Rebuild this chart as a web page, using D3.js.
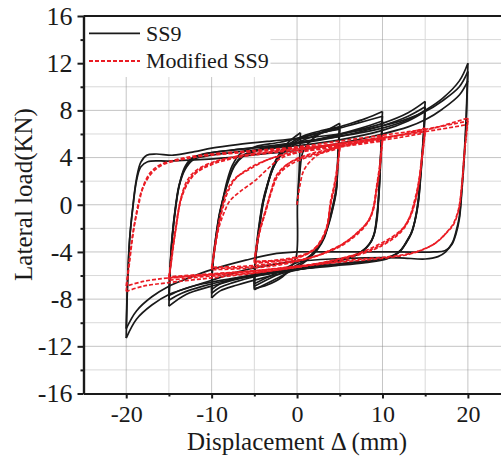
<!DOCTYPE html>
<html>
<head>
<meta charset="utf-8">
<script src="https://cdn.jsdelivr.net/npm/d3@7"></script>
<style>
  body { margin: 0; background: #fff; }
  text { font-family: "Liberation Serif", "Times New Roman", serif; fill: #1a1a1a; }
</style>
</head>
<body>
<div class="chart"></div>
<script>
var svgWidth = 501;
var svgHeight = 457;

var margin = { top: 16, left: 83.5, bottom: 63.5 };
var plotRight = 510.6; // right edge sits just outside the window

// tick values
var xTicks = [-20, -10, 0, 10, 20];
var xMinor = [-15, -5, 5, 15];
var yTicks = [-16, -12, -8, -4, 0, 4, 8, 12, 16];
var yMinor = [-14, -10, -6, -2, 2, 6, 10, 14];

// SS9 branches: [displacement mm, load kN]
var ss9Amp5 = [
  [[0,0],[0.3,2.5],[0.65,4.4],[1.3,5.2],[2.6,6.0],[4,6.5],[5,6.9]],
  [[5,6.9],[4.8,4.5],[4.6,1.5],[4.2,0],[3.7,-1.5],[3.2,-2.8],[2.4,-3.8],[1.5,-4.5],[0,-5.3],[-2.5,-6.3],[-5,-7.2]],
  [[-5,-7.2],[-4.9,-5],[-4.5,-2.5],[-4,0],[-3.6,1.3],[-3,2.9],[-2.1,4.3],[-1,5.3],[0.4,6.1]],
  [[0.4,6.1],[0.25,3],[0.05,0],[-0.1,-4.4],[-0.8,-5.4],[-1.7,-6.1],[-3.5,-6.8],[-5,-7.1]],
  [[-5,-7.1],[-4.9,-4.9],[-4.5,-2.4],[-4,0.1],[-3.5,1.5],[-2.9,3.0],[-2,4.3],[-0.8,5.2],[1,5.9],[3,6.3],[5,6.6]],
  [[5,6.6],[4.8,4.2],[4.6,1.3],[4.2,-0.2],[3.6,-1.8],[3.0,-3.0],[2.2,-3.9],[1.2,-4.6],[0,-5.1],[-2.5,-6.0],[-5,-6.9]],
  [[-5,-6.9],[-4.9,-4.7],[-4.5,-2.2],[-4,0.2],[-3.5,1.6],[-2.8,3.1],[-1.9,4.3],[-0.5,5.2],[1.5,5.9],[3.5,6.2],[5,6.4]],
  [[5,6.4],[4.8,4],[4.6,1.2],[4.2,-0.3],[3.6,-1.9],[2.9,-3.1],[2,-4.0],[1,-4.6],[0,-4.9],[-2.5,-5.8],[-5,-6.7]]
];
var ss9Amp10 = [
  [[-5,-6.7],[-4.9,-4.5],[-4.5,-2],[-4,0.3],[-3.4,1.9],[-2.6,3.4],[-1.5,4.5],[0.5,5.4],[3,6.1],[5,6.6],[8,7.3],[10,7.9]],
  [[10,7.9],[9.8,4.5],[9.6,1.5],[9.4,-1],[9.1,-2.3],[8.7,-3.1],[8,-3.7],[7,-4.2],[5,-4.7],[2,-5.2],[-1,-5.7],[-4,-6.2],[-7,-6.8],[-9,-7.3],[-10,-7.9]],
  [[-10,-7.9],[-9.9,-5.5],[-9.6,-3.5],[-9.1,-1],[-8.7,0.4],[-8.2,2],[-7.6,3.3],[-6.7,4.3],[-5,4.9],[-2,5.3],[1,5.8],[4,6.3],[7,6.9],[10,7.5]],
  [[10,7.5],[9.8,4.2],[9.6,1.2],[9.3,-1.2],[9.0,-2.5],[8.5,-3.3],[7.7,-3.9],[6.5,-4.4],[4,-4.8],[1,-5.3],[-2,-5.7],[-5,-6.1],[-7.5,-6.6],[-9,-7.0],[-10,-7.5]],
  [[-10,-7.5],[-9.9,-5.3],[-9.6,-3.3],[-9.1,-0.9],[-8.6,0.6],[-8.0,2.1],[-7.3,3.3],[-6.3,4.1],[-4.5,4.6],[-1.5,5.0],[1.5,5.4],[4.5,5.9],[7.5,6.5],[10,7.1]],
  [[10,7.1],[9.8,4.0],[9.6,1.0],[9.3,-1.3],[9.0,-2.6],[8.4,-3.4],[7.6,-4.0],[6.2,-4.5],[4,-4.9],[1,-5.3],[-2,-5.6],[-5,-5.9],[-7.5,-6.3],[-9,-6.7],[-10,-7.2]]
];
var ss9Amp15 = [
  [[-10,-7.2],[-9.9,-5.1],[-9.6,-3.2],[-9.1,-0.8],[-8.6,0.7],[-8.0,2.2],[-7.3,3.4],[-6.3,4.2],[-4.5,4.7],[-1,5.1],[3,5.6],[7,6.3],[10,6.9],[13,7.8],[15,8.76]],
  [[15,8.76],[14.8,6],[14.5,3],[14.2,0.5],[13.9,-1],[13.5,-2.2],[12.9,-3.0],[12.2,-3.8],[11,-4.4],[9,-4.7],[5,-5.0],[1,-5.4],[-3,-5.8],[-7,-6.3],[-10,-6.9],[-13,-7.6],[-15,-8.6]],
  [[-15,-8.6],[-14.85,-5.5],[-14.6,-2.8],[-14.2,-0.2],[-13.8,1.6],[-13.2,3.1],[-12.4,3.9],[-11,4.3],[-8,4.6],[-4,4.9],[0,5.2],[5,5.8],[10,6.7],[13,7.5],[15,8.3]],
  [[15,8.3],[14.8,5.7],[14.5,2.8],[14.2,0.3],[13.8,-1.3],[13.4,-2.4],[12.8,-3.2],[12,-4.0],[10.5,-4.5],[8,-4.8],[4,-5.1],[0,-5.5],[-4,-5.9],[-8,-6.4],[-11,-6.9],[-13.5,-7.5],[-15,-8.1]],
  [[-15,-8.1],[-14.85,-5.3],[-14.6,-2.6],[-14.2,-0.1],[-13.8,1.6],[-13.1,3.0],[-12.2,3.8],[-10.8,4.1],[-8,4.4],[-4,4.7],[0,5.0],[5,5.5],[10,6.3],[13,7.1],[15,7.9]],
  [[15,7.9],[14.8,5.5],[14.5,2.6],[14.2,0.2],[13.8,-1.4],[13.3,-2.5],[12.7,-3.3],[11.8,-4.1],[10.5,-4.6],[8,-4.9],[4,-5.2],[0,-5.5],[-4,-5.9],[-8,-6.3],[-11,-6.7],[-13.5,-7.2],[-15,-7.7]]
];
var ss9Amp20 = [
  [[-15,-7.7],[-14.85,-5.1],[-14.6,-2.5],[-14.2,0],[-13.8,1.7],[-13.1,3.1],[-12.2,3.9],[-10.8,4.3],[-8,4.6],[-4,4.9],[0,5.3],[5,5.8],[10,6.5],[13,7.2],[15,8.0],[17,9.0],[19,10.5],[20,12.0]],
  [[20,12.0],[19.8,7.5],[19.6,4.6],[19.3,1.5],[19.0,-1.0],[18.6,-2.3],[18.2,-3.2],[17.4,-4.0],[16.5,-4.4],[15,-4.6],[12,-4.5],[8,-4.5],[4,-4.6],[0,-4.8],[-4,-5.2],[-7,-5.7],[-10,-6.4],[-13,-7.1],[-15,-7.6],[-17,-8.5],[-18.8,-9.7],[-20,-11.3]],
  [[-20,-11.3],[-19.85,-7],[-19.6,-3],[-19.2,0],[-18.8,2.2],[-18.3,3.6],[-17.6,4.2],[-16.5,4.3],[-14.5,4.2],[-12,4.5],[-10,4.8],[-7,5.1],[-3,5.4],[0,5.6],[5,6.0],[10,6.7],[13,7.3],[15,7.9],[17,8.8],[19,10.0],[20,11.3]],
  [[20,11.3],[19.8,7.0],[19.6,4.2],[19.3,1.2],[19.0,-1.2],[18.6,-2.5],[18.1,-3.4],[17.3,-3.9],[16,-4.0],[12,-4.0],[8,-4.0],[4,-4.0],[0,-4.0],[-3,-4.2],[-6,-4.7],[-10,-5.5],[-13,-6.3],[-15,-6.9],[-17,-7.8],[-18.8,-9.0],[-20,-10.5]],
  [[-20,-10.5],[-19.85,-6.6],[-19.6,-2.9],[-19.2,-0.1],[-18.8,2.0],[-18.3,3.2],[-17.5,3.65],[-15,3.7],[-12,3.8],[-8,4.0],[-4,4.3],[0,4.6],[5,5.2],[10,6.0],[13,6.6],[15,7.2],[17,8.1],[19,9.3],[20,10.5]]
];

// Modified SS9 branches
var modAmp5 = [
  [[0,0],[0.3,1.5],[0.85,3.0],[2.2,4.1],[3.6,4.6],[5,5.0]],
  [[5,5.0],[4.7,3.2],[4.3,1.5],[3.9,0.2],[3.6,-1.6],[3.0,-2.8],[2,-3.8],[0,-4.5],[-2.5,-4.8],[-5,-4.95]],
  [[-5,-4.95],[-4.7,-3.5],[-4.4,-2.3],[-3.7,-0.5],[-3.1,1.0],[-2.4,2.5],[-1,3.5],[1.5,4.2],[3.5,4.6],[5,4.9]],
  [[5,4.9],[4.7,3.0],[4.3,1.3],[3.9,0],[3.5,-1.8],[2.8,-3.0],[1.8,-3.9],[0,-4.5],[-2.5,-4.75],[-5,-4.85]],
  [[-5,-4.85],[-4.7,-3.4],[-4.3,-2.1],[-3.6,-0.4],[-3.0,1.1],[-2.2,2.5],[-0.8,3.4],[1.5,4.1],[3.5,4.5],[5,4.8]],
  [[5,4.8],[4.7,2.9],[4.3,1.2],[3.9,-0.1],[3.5,-1.9],[2.8,-3.1],[1.7,-3.9],[0,-4.4],[-2.5,-4.7],[-5,-4.8]]
];
var modAmp10 = [
  [[-5,-4.8],[-4.7,-3.3],[-4.3,-2.0],[-3.6,-0.3],[-3.0,1.2],[-2.2,2.6],[-0.8,3.6],[1.5,4.3],[5,4.9],[8,5.4],[10,5.9]],
  [[10,5.9],[9.7,3.5],[9.3,1.5],[8.9,-0.3],[8.4,-1.3],[7.3,-2.2],[6,-3.0],[4.9,-3.5],[2,-4.4],[-2,-5.1],[-6,-5.4],[-10,-5.5]],
  [[-10,-5.5],[-9.6,-3.6],[-9.3,-2.1],[-8.8,-0.3],[-8.2,1.2],[-7.3,2.2],[-5.6,3.0],[-3.5,3.8],[-1.5,4.3],[0,4.6],[5,5.1],[10,5.6]],
  [[10,5.6],[9.7,3.3],[9.3,1.3],[8.9,-0.4],[8.3,-1.4],[7.2,-2.3],[5.8,-3.1],[4.7,-3.6],[2,-4.4],[-2,-5.0],[-6,-5.3],[-10,-5.4]],
  [[-10,-5.4],[-9.5,-3.2],[-9.1,-1.8],[-8.5,-0.6],[-7.9,0.3],[-6.7,1.1],[-5,2.0],[-3.5,3.0],[-2,3.9],[0,4.4],[5,4.9],[10,5.4]],
  [[10,5.4],[9.7,3.1],[9.3,1.1],[8.9,-0.5],[8.3,-1.5],[7.2,-2.4],[5.8,-3.2],[4.6,-3.7],[2,-4.4],[-2,-4.9],[-6,-5.2],[-10,-5.3]]
];
var modAmp15 = [
  [[-10,-5.3],[-9.6,-3.4],[-9.2,-1.9],[-8.7,-0.3],[-8.1,1.1],[-7.2,2.2],[-5.6,3.1],[-3.5,3.8],[-1,4.3],[3,4.8],[8,5.3],[12,5.9],[15,6.5]],
  [[15,6.5],[14.6,4],[14.2,1.8],[13.7,0.2],[13.2,-1.0],[12.5,-1.9],[11.2,-2.7],[9.2,-3.5],[6.9,-4.2],[3,-4.9],[-2,-5.5],[-7,-5.9],[-11,-6.1],[-15,-6.4]],
  [[-15,-6.4],[-14.6,-4.2],[-14.2,-2.1],[-13.6,0.5],[-12.9,2.0],[-12.0,2.8],[-10.3,3.5],[-7.1,4.1],[-3,4.5],[2,4.9],[7,5.3],[12,5.9],[15,6.3]],
  [[15,6.3],[14.6,3.8],[14.2,1.6],[13.7,0.0],[13.1,-1.2],[12.3,-2.1],[11,-2.9],[9,-3.7],[6.5,-4.3],[3,-4.9],[-2,-5.4],[-7,-5.8],[-11,-6.0],[-15,-6.2]],
  [[-15,-6.2],[-14.6,-4.0],[-14.2,-2.0],[-13.6,0.4],[-12.8,1.8],[-11.8,2.7],[-10,3.4],[-7,4.0],[-3,4.4],[2,4.8],[7,5.2],[12,5.7],[15,6.1]],
  [[15,6.1],[14.6,3.7],[14.2,1.5],[13.7,-0.1],[13.1,-1.3],[12.3,-2.2],[11,-3.0],[9,-3.8],[6.5,-4.4],[3,-5.0],[-2,-5.4],[-7,-5.7],[-11,-5.9],[-15,-6.1]]
];
var modAmp20 = [
  [[-15,-6.1],[-14.6,-3.9],[-14.2,-1.9],[-13.6,0.5],[-12.8,1.9],[-11.8,2.8],[-10,3.5],[-7,4.1],[-3,4.5],[2,4.9],[7,5.4],[12,5.9],[16,6.5],[20,7.35]],
  [[20,7.35],[19.6,4.5],[19.3,1.8],[18.9,-0.4],[18.3,-1.6],[17.8,-2.1],[16.3,-3.2],[13.9,-4.0],[10.8,-4.4],[6.1,-4.7],[0,-5.3],[-5,-5.8],[-10,-6.2],[-15,-6.6],[-18,-6.9],[-20,-7.35]],
  [[-20,-7.35],[-19.6,-4.8],[-19.2,-2.5],[-18.7,-0.3],[-18.1,1.4],[-17.2,2.7],[-16.0,3.4],[-13,4.0],[-10,4.3],[-5,4.6],[0,4.9],[5,5.4],[10,5.9],[15,6.4],[20,7.1]],
  [[20,7.1],[19.6,4.3],[19.3,1.6],[18.9,-0.5],[18.3,-1.7],[17.6,-2.3],[16.1,-3.3],[13.6,-4.1],[10.5,-4.5],[6,-4.8],[0,-5.2],[-5,-5.6],[-10,-5.9],[-15,-6.2],[-18,-6.5],[-20,-6.9]],
  [[-20,-6.9],[-19.6,-4.5],[-19.2,-2.3],[-18.6,-0.2],[-18.0,1.5],[-17.0,2.7],[-15.7,3.4],[-13,3.9],[-10,4.2],[-5,4.5],[0,4.8],[5,5.2],[10,5.7],[15,6.2],[20,6.8]]
];

var ss9Branches = ss9Amp5.concat(ss9Amp10, ss9Amp15, ss9Amp20);
var modBranches = modAmp5.concat(modAmp10, modAmp15, modAmp20);

var svg = d3
  .select(".chart")
  .append("svg")
  .attr("width", svgWidth)
  .attr("height", svgHeight);

var xScale = d3.scaleLinear().domain([-25, 25]).range([margin.left, plotRight]);
var yScale = d3.scaleLinear().domain([-16, 16]).range([svgHeight - margin.bottom, margin.top]);

var y0 = yScale(-16), y1 = yScale(16);

// grid: minor solid light, major dotted
var grid = svg.append("g");
grid.selectAll(".vminor").data(xMinor).enter().append("line")
  .attr("x1", (d) => xScale(d)).attr("x2", (d) => xScale(d))
  .attr("y1", y0).attr("y2", y1)
  .attr("stroke", "#d9d9d9").attr("stroke-width", 1);
grid.selectAll(".hminor").data(yMinor).enter().append("line")
  .attr("x1", margin.left).attr("x2", plotRight)
  .attr("y1", (d) => yScale(d)).attr("y2", (d) => yScale(d))
  .attr("stroke", "#d9d9d9").attr("stroke-width", 1);
grid.selectAll(".vmajor").data(xTicks).enter().append("line")
  .attr("x1", (d) => xScale(d)).attr("x2", (d) => xScale(d))
  .attr("y1", y0).attr("y2", y1)
  .attr("stroke", "#8a8a8a").attr("stroke-width", 1)
  .attr("stroke-dasharray", "1,1");
grid.selectAll(".hmajor").data(yTicks).enter().append("line")
  .attr("x1", margin.left).attr("x2", plotRight)
  .attr("y1", (d) => yScale(d)).attr("y2", (d) => yScale(d))
  .attr("stroke", "#8a8a8a").attr("stroke-width", 1)
  .attr("stroke-dasharray", "1,1");

// legend background hides grid in the top left
svg.append("rect")
  .attr("x", margin.left + 1).attr("y", margin.top + 1)
  .attr("width", 186).attr("height", 60)
  .attr("fill", "#fff");

var line = d3
  .line()
  .curve(d3.curveCatmullRom.alpha(0.5))
  .x((d) => xScale(d[0]))
  .y((d) => yScale(d[1]));

svg.append("g").selectAll("path")
  .data(ss9Branches).enter().append("path")
  .attr("d", line)
  .attr("fill", "none")
  .attr("stroke", "#1a1a1a")
  .attr("stroke-width", 1.7);

svg.append("g").selectAll("path")
  .data(modBranches).enter().append("path")
  .attr("d", line)
  .attr("fill", "none")
  .attr("stroke", "#ea1c24")
  .attr("stroke-width", 1.7)
  .attr("stroke-dasharray", "4,2");

// axes
function styleAxis(g) {
  g.select(".domain").attr("stroke", "#1a1a1a").attr("stroke-width", 2.2);
  g.selectAll(".tick line").attr("stroke", "#1a1a1a").attr("stroke-width", 2);
}

var leftAxis = svg.append("g")
  .attr("transform", `translate(${margin.left},0)`)
  .call(d3.axisLeft(yScale).tickValues(yTicks).tickSize(6).tickSizeOuter(0).tickPadding(5).tickFormat((d) => String(d)))
  .call(styleAxis);
leftAxis.selectAll("text").style("font-size", "26px").attr("fill", "#1a1a1a");

svg.append("g")
  .attr("transform", `translate(${margin.left},0)`)
  .call(d3.axisLeft(yScale).tickValues(yMinor).tickSize(3).tickSizeOuter(0).tickFormat(""))
  .call(styleAxis);

var bottomAxis = svg.append("g")
  .attr("transform", `translate(0,${y0})`)
  .call(d3.axisBottom(xScale).tickValues(xTicks).tickSize(5).tickSizeOuter(0).tickPadding(6).tickFormat((d) => String(d)))
  .call(styleAxis);
bottomAxis.selectAll("text").style("font-size", "24px").attr("fill", "#1a1a1a");

svg.append("g")
  .attr("transform", `translate(0,${y0})`)
  .call(d3.axisBottom(xScale).tickValues(xMinor).tickSize(3).tickSizeOuter(0).tickFormat(""))
  .call(styleAxis);

// top frame line
svg.append("line")
  .attr("x1", margin.left).attr("x2", plotRight)
  .attr("y1", y1).attr("y2", y1)
  .attr("stroke", "#1a1a1a").attr("stroke-width", 2.2);

// legend
svg.append("line")
  .attr("x1", 89).attr("x2", 140).attr("y1", 33.3).attr("y2", 33.3)
  .attr("stroke", "#1a1a1a").attr("stroke-width", 1.8);
svg.append("text").attr("x", 146).attr("y", 40.7)
  .style("font-size", "22px").text("SS9");
svg.append("line")
  .attr("x1", 89).attr("x2", 140).attr("y1", 61).attr("y2", 61)
  .attr("stroke", "#ea1c24").attr("stroke-width", 1.8)
  .attr("stroke-dasharray", "4,2");
svg.append("text").attr("x", 146).attr("y", 68.3)
  .style("font-size", "22px").text("Modified SS9");

// axis titles
svg.append("text")
  .attr("x", xScale(0)).attr("y", 450)
  .style("text-anchor", "middle")
  .style("font-size", "25px")
  .text("Displacement \u0394 (mm)");

svg.append("text")
  .attr("transform", "translate(32,194.5) rotate(-90)")
  .style("text-anchor", "middle")
  .style("font-size", "25px")
  .text("Lateral load(KN)");
</script>
</body>
</html>
